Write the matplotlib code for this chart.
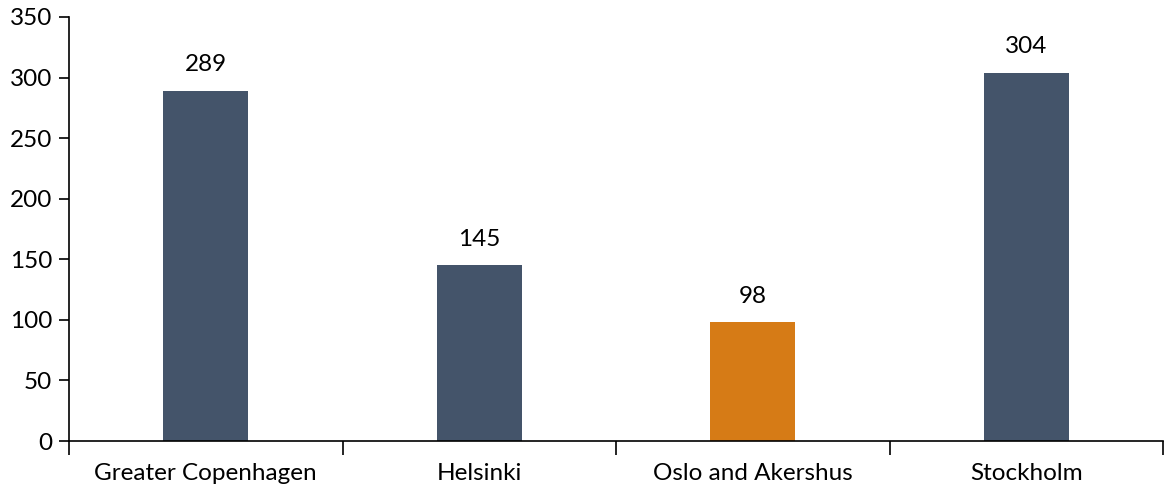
import numpy as np
import matplotlib
matplotlib.use("Agg")
import matplotlib.pyplot as plt

regions = ["Greater Copenhagen", "Helsinki", "Oslo and Akershus", "Stockholm"]
values = [289, 145, 98, 304]
bar_colors = ["#44546A", "#44546A", "#D67B16", "#44546A"]

plt.rcParams["font.family"] = ["Lato", "DejaVu Sans"]

fig = plt.figure(figsize=(11.64, 4.88), dpi=100)
ax = fig.add_axes([69 / 1164, 47 / 488, (1163 - 69) / 1164, 424 / 488])

x = np.arange(len(regions))
bars = ax.bar(x, values, width=0.31, color=bar_colors, zorder=2)
for xi, v in zip(x, values):
    ax.text(xi, v + 13, str(v), ha="center", va="bottom", fontsize=17.5)

ax.set_xlim(-0.5, len(regions) - 0.5)
ax.set_ylim(0, 350)
ax.set_yticks(np.arange(0, 351, 50))
ax.tick_params(axis="y", direction="out", length=7, width=1.2, labelsize=17.5, pad=5)

# category labels sit between boundary ticks
ax.set_xticks(np.arange(-0.5, len(regions)), minor=False)
ax.set_xticklabels([])
ax.set_xticks(x, minor=True)
ax.set_xticklabels(regions, minor=True, fontsize=17.5)
ax.tick_params(axis="x", which="major", direction="out", length=10, width=1.2)
ax.tick_params(axis="x", which="minor", length=0, pad=16)

for side in ["top", "right"]:
    ax.spines[side].set_visible(False)
for side in ["left", "bottom"]:
    ax.spines[side].set_linewidth(1.2)
    ax.spines[side].set_color("black")

fig.savefig("out.png", dpi=100)
